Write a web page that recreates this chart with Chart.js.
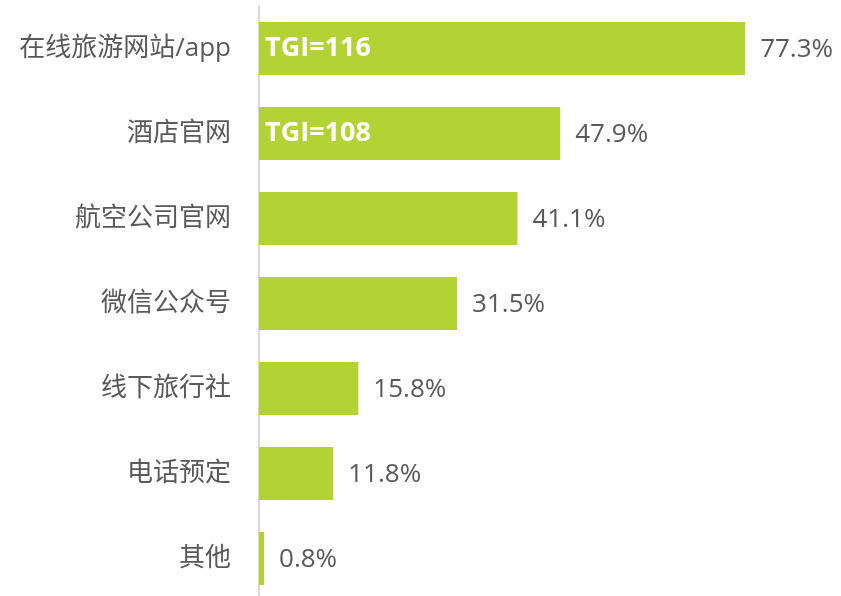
<!DOCTYPE html>
<html lang="zh">
<head>
    <meta charset="UTF-8">
    <title>预订渠道</title>
    <script src="https://cdn.jsdelivr.net/npm/chart.js"></script>
    <style>
        html, body {
            margin: 0;
            overflow: hidden;
            background: #fff;
        }
        canvas {
            display: block;
        }
    </style>
</head>
<body>
<canvas id="myChart" width="841" height="601"></canvas>
<script>
    const channels = ['在线旅游网站/app', '酒店官网', '航空公司官网', '微信公众号', '线下旅行社', '电话预定', '其他'];
    const shares = [77.3, 47.9, 41.1, 31.5, 15.8, 11.8, 0.8];
    const tgiLabels = ['TGI=116', 'TGI=108', '', '', '', '', ''];

    const fontFamily = '"Open Sans", "Noto Sans CJK SC", sans-serif';
    const textColor = '#595959';

    // value text after each bar, TGI text inside the first bars
    const barLabels = {
        id: 'barLabels',
        afterDatasetsDraw(chart) {
            const ctx = chart.ctx;
            const meta = chart.getDatasetMeta(0);
            const area = chart.chartArea;
            ctx.save();
            ctx.textBaseline = 'middle';
            meta.data.forEach((bar, i) => {
                ctx.font = '26px ' + fontFamily;
                ctx.fillStyle = textColor;
                ctx.textAlign = 'left';
                ctx.fillText(shares[i].toFixed(1) + '%', bar.x + 15, bar.y + 1);
                if (tgiLabels[i]) {
                    ctx.font = 'bold 27px ' + fontFamily;
                    ctx.fillStyle = '#ffffff';
                    ctx.fillText(tgiLabels[i], area.left + 6, bar.y);
                }
            });
            ctx.restore();
        }
    };

    const ctx = document.getElementById('myChart').getContext('2d');
    const chart = new Chart(ctx, {
        type: 'bar',
        data: {
            labels: channels,
            datasets: [{
                data: shares,
                backgroundColor: '#b3d334',
                borderWidth: 0,
                barPercentage: 0.625,
                categoryPercentage: 1
            }]
        },
        options: {
            indexAxis: 'y',
            responsive: false,
            animation: false,
            layout: {
                padding: { top: 6, right: 16, bottom: 0, left: 0 }
            },
            scales: {
                x: {
                    display: false,
                    min: 0,
                    max: 90
                },
                y: {
                    afterFit(scale) {
                        // fixed label column, no extra room above/below for tick text
                        scale.width = 259;
                        scale.paddingTop = 0;
                        scale.paddingBottom = 0;
                    },
                    grid: {
                        display: false,
                        drawTicks: false
                    },
                    border: {
                        display: true,
                        color: '#d9d9d9',
                        width: 2
                    },
                    ticks: {
                        padding: 28,
                        color: textColor,
                        font: { size: 26, family: fontFamily }
                    }
                }
            },
            plugins: {
                legend: { display: false },
                tooltip: { enabled: false }
            }
        },
        plugins: [barLabels]
    });
</script>
</body>
</html>
